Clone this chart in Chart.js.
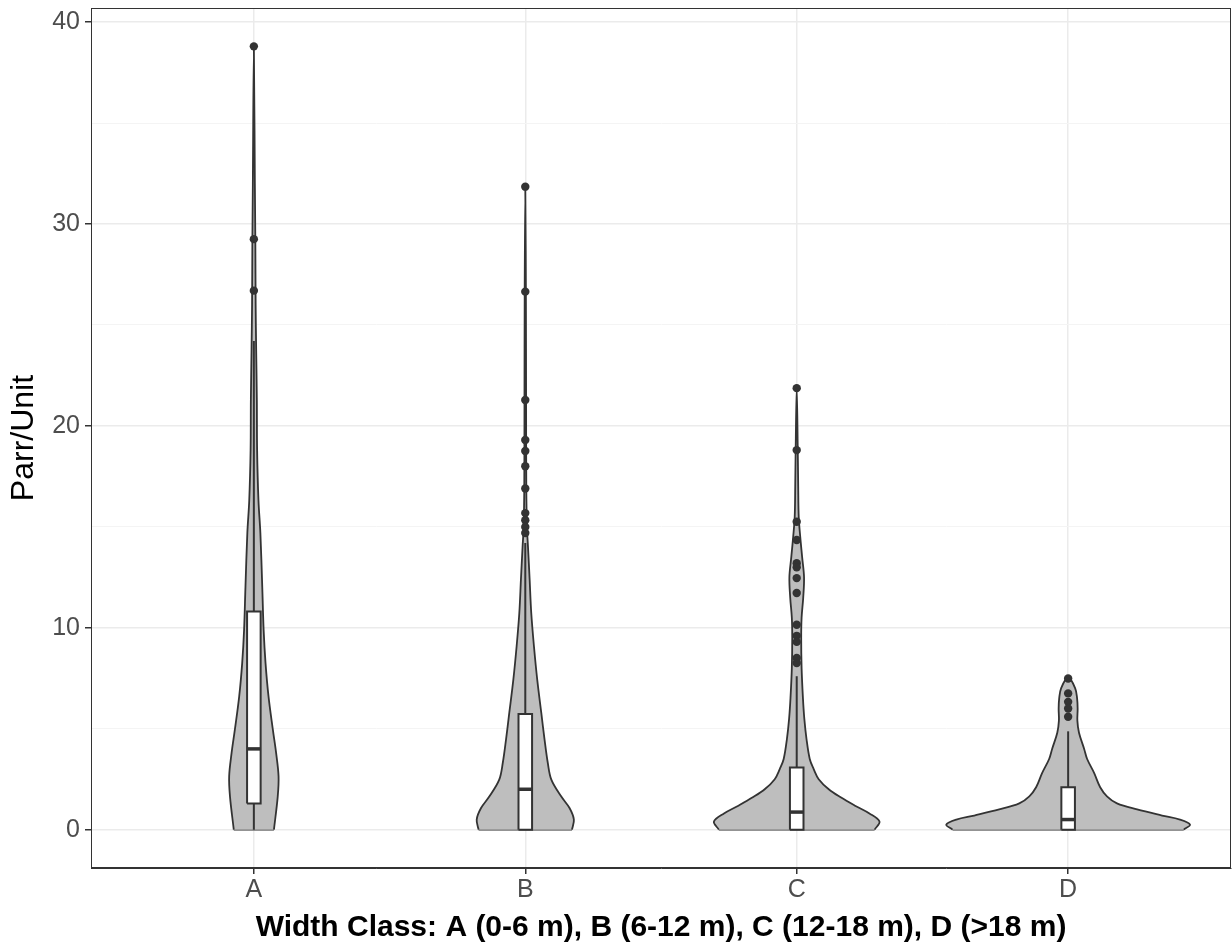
<!DOCTYPE html>
<html>
<head>
<meta charset="utf-8">
<script src="https://cdn.jsdelivr.net/npm/chart.js@4.4.1/dist/chart.umd.min.js"></script>
<style>
  html, body { margin: 0; padding: 0; background: #fff; }
  #wrap { width: 1232px; height: 943px; }
</style>
</head>
<body>
<div id="wrap"><canvas id="violin"></canvas></div>
<script>
// width classes
var groups = ['A', 'B', 'C', 'D'];

// violin outlines: y levels and half width (in x-axis units)
var levelsA = [0, 1.65, 2.64, 3.8, 4.95, 6.6, 8.25, 9.9, 12, 14.7, 16.3, 18.8, 21.3, 23.8, 26, 29, 32, 38.8];
var widthA  = [0.074, 0.088, 0.091, 0.082, 0.070, 0.054, 0.043, 0.036, 0.031, 0.024, 0.017, 0.012, 0.011, 0.0085, 0.0066, 0.0055, 0.0037, 0];
var levelsB = [0, 0.5, 1.07, 1.65, 2.48, 3.3, 4.46, 5.78, 7.43, 9.07, 10.73, 12.4, 14.0, 15.0, 17, 21, 26.7, 31.85];
var widthB  = [0.172, 0.179, 0.163, 0.132, 0.096, 0.083, 0.071, 0.059, 0.044, 0.032, 0.022, 0.016, 0.010, 0.006, 0.0037, 0.003, 0.0022, 0];
var levelsC = [0, 0.4, 0.8, 1.2, 1.6, 2.0, 2.5, 3.0, 3.5, 4.5, 5.5, 6.5, 8, 9.5, 10.5, 11.5, 12.5, 13.5, 14.5, 15.5, 17, 19, 21.9];
var widthC  = [0.287, 0.305, 0.268, 0.213, 0.162, 0.118, 0.081, 0.0625, 0.048, 0.036, 0.028, 0.023, 0.018, 0.0165, 0.018, 0.024, 0.027, 0.020, 0.013, 0.0074, 0.0055, 0.0037, 0];
var levelsD = [0, 0.25, 0.5, 0.7, 1.0, 1.3, 1.65, 2.1, 2.8, 3.5, 4.0, 4.8, 5.4, 6.0, 6.5, 7.0, 7.55];
var widthD  = [0.426, 0.449, 0.412, 0.346, 0.254, 0.180, 0.143, 0.118, 0.096, 0.070, 0.059, 0.040, 0.034, 0.035, 0.033, 0.026, 0];

// boxplot stats
var whiskerLow  = [0, 0, 0, 0];
var boxQ1       = [1.3, 0, 0, 0];
var boxMedian   = [4.0, 2.0, 0.87, 0.5];
var boxQ3       = [10.8, 5.73, 3.08, 2.1];
var whiskerHigh = [24.2, 14.2, 7.6, 4.87];

// outliers
var outliersA = [38.8, 29.25, 26.7];
var outliersB = [31.85, 26.65, 21.28, 19.3, 18.76, 18.0, 16.9, 15.68, 15.33, 14.99, 14.69];
var outliersC = [21.87, 18.8, 15.25, 14.35, 13.2, 13.0, 12.46, 11.72, 10.15, 9.6, 9.3, 8.5, 8.25];
var outliersD = [7.49, 6.75, 6.33, 6.0, 5.59];

var ink = '#333333';
var boxHalf = 0.025;

function violinPoints(c, ys, ws) {
    var left = ys.map(function (y, i) { return {x: c - ws[i], y: y}; });
    var right = ys.map(function (y, i) { return {x: c + ws[i], y: y}; }).reverse().slice(1);
    return left.concat(right);
}

var levels = [levelsA, levelsB, levelsC, levelsD];
var widths = [widthA, widthB, widthC, widthD];
var outliers = [outliersA, outliersB, outliersC, outliersD];

var datasets = [];
groups.forEach(function (g, i) {
    var c = i + 1;
    datasets.push({
        data: violinPoints(c, levels[i], widths[i]),
        borderColor: ink, borderWidth: 1.8, backgroundColor: '#BEBEBE',
        fill: 'shape', tension: 0.35, pointRadius: 0, order: 5
    });
    datasets.push({
        data: [{x: c - widths[i][0], y: levels[i][0]}, {x: c + widths[i][0], y: levels[i][0]}],
        borderColor: ink, borderWidth: 1.8, fill: false, pointRadius: 0, order: 5
    });
    datasets.push({
        data: [{x: c, y: whiskerLow[i]}, {x: c, y: whiskerHigh[i]}],
        borderColor: ink, borderWidth: 2, fill: false, pointRadius: 0, order: 4
    });
    datasets.push({
        data: [{x: c - boxHalf, y: boxQ1[i]}, {x: c + boxHalf, y: boxQ1[i]},
               {x: c + boxHalf, y: boxQ3[i]}, {x: c - boxHalf, y: boxQ3[i]},
               {x: c - boxHalf, y: boxQ1[i]}],
        borderColor: ink, borderWidth: 2, backgroundColor: '#FFFFFF',
        fill: 'shape', tension: 0, pointRadius: 0, order: 3
    });
    datasets.push({
        data: [{x: c - boxHalf, y: boxMedian[i]}, {x: c + boxHalf, y: boxMedian[i]}],
        borderColor: ink, borderWidth: 3.5, fill: false, pointRadius: 0, order: 2
    });
    datasets.push({
        data: outliers[i].map(function (v) { return {x: c, y: v}; }),
        showLine: false, pointRadius: 4.2, pointBorderWidth: 0,
        pointBackgroundColor: ink, order: 1
    });
});

var panelBorder = {
    id: 'panelBorder',
    afterDraw: function (chart) {
        var a = chart.chartArea, ctx = chart.ctx;
        ctx.save();
        ctx.strokeStyle = ink;
        ctx.lineWidth = 1;
        ctx.strokeRect(a.left + 0.5, a.top + 0.5, a.right - a.left - 1, a.bottom - a.top - 1);
        ctx.restore();
    }
};

var ctx = document.getElementById('violin');
var chart = new Chart(ctx, {
    type: 'line',
    data: { datasets: datasets },
    plugins: [panelBorder],
    options: {
        responsive: true,
        maintainAspectRatio: false,
        animation: false,
        events: [],
        layout: { autoPadding: false, padding: { top: 8, right: 1, left: 0, bottom: 0 } },
        plugins: { legend: { display: false }, tooltip: { enabled: false } },
        scales: {
            x: {
                type: 'linear', min: 0.4, max: 4.6,
                afterFit: function (s) { s.height = 75; s.paddingLeft = 0; s.paddingRight = 0; },
                ticks: {
                    stepSize: 1, includeBounds: false, padding: 1,
                    color: '#4D4D4D', font: { family: 'Liberation Sans', size: 25 },
                    callback: function (v) { return groups[v - 1] || ''; }
                },
                grid: { color: '#EBEBEB', lineWidth: 1.5, tickColor: ink, tickLength: 6 },
                border: { color: ink, width: 1 },
                title: {
                    display: true,
                    text: 'Width Class: A (0-6 m), B (6-12 m), C (12-18 m), D (>18 m)',
                    color: '#000', font: { family: 'Liberation Sans', size: 30, weight: 'bold' },
                    padding: { top: 0, bottom: -3 }
                }
            },
            y: {
                type: 'linear', min: -1.9, max: 40.7,
                afterFit: function (s) { s.width = 91; s.paddingTop = 0; s.paddingBottom = 0; },
                ticks: {
                    stepSize: 5, includeBounds: false, padding: 5,
                    color: '#4D4D4D', font: { family: 'Liberation Sans', size: 25 },
                    callback: function (v) { return v % 10 === 0 ? String(v) : ''; }
                },
                grid: {
                    color: function (c) { return c.tick && c.tick.value % 10 === 0 ? '#EBEBEB' : '#F4F4F4'; },
                    lineWidth: function (c) { return c.tick && c.tick.value % 10 === 0 ? 1.5 : 1; },
                    tickColor: function (c) { return c.tick && c.tick.value % 10 === 0 ? ink : 'rgba(0,0,0,0)'; },
                    tickLength: 6
                },
                border: { color: ink, width: 1 },
                title: {
                    display: true, text: 'Parr/Unit', color: '#000',
                    font: { family: 'Liberation Sans', size: 32 },
                    padding: { top: 5, bottom: 0 }
                }
            }
        }
    }
});
</script>
</body>
</html>
